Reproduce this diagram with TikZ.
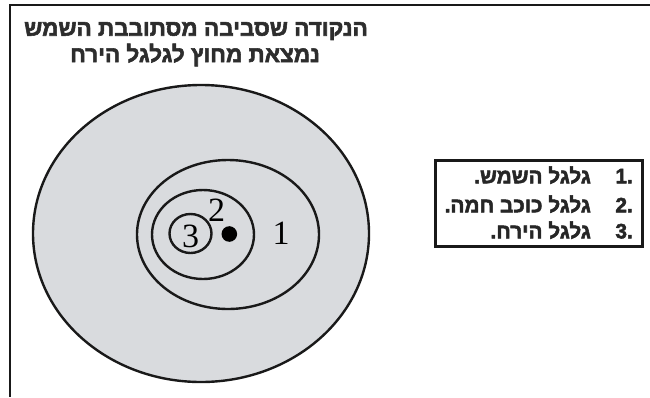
\documentclass[tikz,border=0pt]{standalone}
\usepackage{fontspec}
\setmainfont{Liberation Serif}
\newfontfamily\hebfont[Script=Hebrew, BoldFont={Liberation Sans Bold}, BoldFeatures={FakeBold=2.5}]{Liberation Sans}
\TeXXeTstate=1
\definecolor{ringgray}{RGB}{217,219,222}
\definecolor{titlegray}{RGB}{45,45,45}
\begin{document}
\begin{tikzpicture}[x=1pt,y=-1pt,
  ring/.style={line width=2.4pt, draw=black!90},
  digit/.style={font=\fontsize{34}{34}\selectfont, inner sep=0pt},
  titletext/.style={font=\hebfont\bfseries\fontsize{22.5}{24}\selectfont, text=titlegray, inner sep=0pt},
  legtext/.style={font=\hebfont\bfseries\fontsize{20.8}{23}\selectfont, text=black!85, inner sep=0pt, anchor=mid east}]
\useasboundingbox (0,0) rectangle (650,397);
% frame
\draw[line width=2pt, black!90] (650,5) -- (10,5) -- (10,397);
% ellipses
\draw[ring, fill=ringgray] (201,233.5) ellipse [x radius=168, y radius=148.5];
\draw[ring] (228,234.5) ellipse [x radius=91, y radius=74.5];
\draw[ring] (203,234.5) ellipse [x radius=51, y radius=44.5];
\draw[ring] (190.5,233.5) ellipse [x radius=21, y radius=19.5];
\fill[black] (229.3,234) circle [radius=7.8];
% digits
\node[digit] (d3) at (190.5,236) {3};
\node[digit] (d2) at (216.5,210) {2};
\node[digit] (d1) at (281,233) {1};
% title
\node[titletext] (t1) at (196,31) {\beginR הנקודה שסביבה מסתובבת השמש\endR};
\node[titletext] (t2) at (195,55) {\beginR נמצאת מחוץ לגלגל הירח\endR};
% legend
\draw[line width=3pt, black!90] (435,160) rectangle (642,246);
\node[legtext] (n1) at (633,181) {.1};
\node[legtext] (n2) at (633,210) {.2};
\node[legtext] (n3) at (633,236) {.3};
\node[legtext] (l1) at (591,181) {\beginR גלגל השמש.\endR};
\node[legtext] (l2) at (591,210) {\beginR גלגל כוכב חמה.\endR};
\node[legtext] (l3) at (591,236) {\beginR גלגל הירח.\endR};
\end{tikzpicture}
\end{document}
